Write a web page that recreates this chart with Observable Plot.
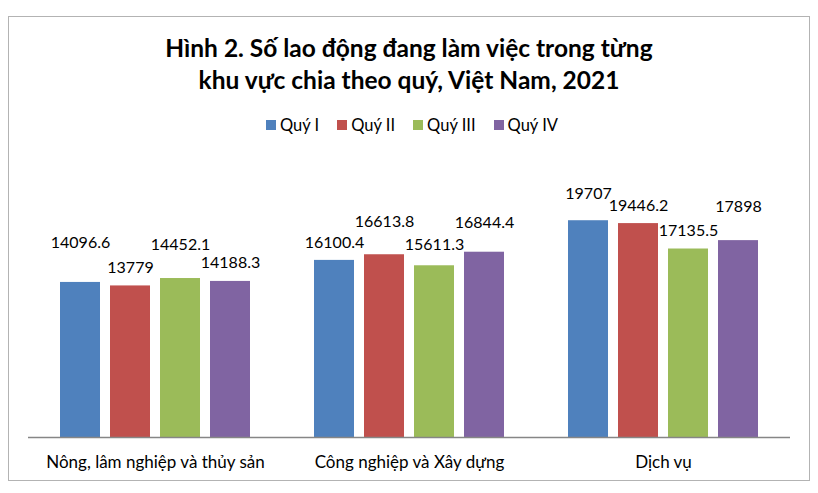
<!DOCTYPE html>
<html>
<head>
<meta charset="utf-8">
<script src="https://cdn.jsdelivr.net/npm/d3@7"></script>
<script src="https://cdn.jsdelivr.net/npm/@observablehq/plot@0.6"></script>
<style>
  html, body { margin: 0; padding: 0; background: #fff; }
  #wrap { position: relative; width: 818px; height: 493px; overflow: hidden; font-family: Lato, "Open Sans", sans-serif; }
  #frame { position: absolute; left: 8px; top: 16px; width: 802px; height: 465px; border: 1px solid #b3b3b3; box-sizing: border-box; }
  #title { position: absolute; left: 0; width: 818px; top: 32px; text-align: center; font-weight: bold; font-size: 24.5px; line-height: 32px; color: #000; }
  #legend { position: absolute; left: 3px; width: 818px; top: 115px; display: flex; justify-content: center; align-items: center; font-size: 16.5px; color: #000; }
  .item { display: flex; align-items: center; margin: 0 9px; }
  .sw { width: 10px; height: 10px; margin-right: 4px; }
  #chart { position: absolute; left: 0; top: 0; }
</style>
</head>
<body>
<div id="wrap">
  <div id="frame"></div>
  <div id="title">Hình 2. Số lao động đang làm việc trong từng<br>khu vực chia theo quý, Việt Nam, 2021</div>
  <div id="legend"></div>
  <div id="chart"></div>
</div>
<script>
const categories = ["Nông, lâm nghiệp và thủy sản", "Công nghiệp và Xây dựng", "Dịch vụ"];
const quarters = ["Quý I", "Quý II", "Quý III", "Quý IV"];
const quyI = [14096.6, 16100.4, 19707];
const quyII = [13779, 16613.8, 19446.2];
const quyIII = [14452.1, 15611.3, 17135.5];
const quyIV = [14188.3, 16844.4, 17898];
const colors = ["#4F81BD", "#C0504D", "#9BBB59", "#8064A2"];
// label lift above bar top (px), per category then quarter, as placed in the reference
const labelLift = [[40, 18, 34, 19], [18, 33, 21, 29], [27, 18, 18, 34]];

const series = [quyI, quyII, quyIII, quyIV];
const data = [];
categories.forEach((c, i) => {
  quarters.forEach((q, j) => {
    data.push({category: c, quarter: q, value: series[j][i], lift: labelLift[i][j]});
  });
});

const legend = document.getElementById("legend");
quarters.forEach((q, j) => {
  const it = document.createElement("div");
  it.className = "item";
  const sw = document.createElement("div");
  sw.className = "sw";
  sw.style.background = colors[j];
  const t = document.createElement("span");
  t.textContent = q;
  it.appendChild(sw);
  it.appendChild(t);
  legend.appendChild(it);
});

const labelMarks = data.map(d =>
  Plot.text([d], { fx: "category", x: "quarter", y: "value", text: d => String(d.value), dy: -d.lift, fontSize: 16, fill: "#000" })
);

const plot = Plot.plot({
  width: 818,
  height: 493,
  marginTop: 162,
  marginBottom: 56,
  marginLeft: 28,
  marginRight: 28,
  style: { fontFamily: "Lato, 'Open Sans', sans-serif", background: "transparent", fontSize: "17px" },
  fx: { domain: categories, padding: 0, label: null, axis: "bottom", tickSize: 0, tickPadding: 18 },
  x: { domain: quarters, paddingInner: 0.2, paddingOuter: 0.6, axis: null },
  y: { domain: [0, 25000], axis: null },
  color: { domain: quarters, range: colors },
  marks: [
    Plot.barY(data, { fx: "category", x: "quarter", y: "value", fill: "quarter" }),
    ...labelMarks,
    Plot.ruleY([0], { stroke: "#868686", strokeWidth: 1.5 })
  ]
});
document.getElementById("chart").appendChild(plot);
</script>
</body>
</html>
